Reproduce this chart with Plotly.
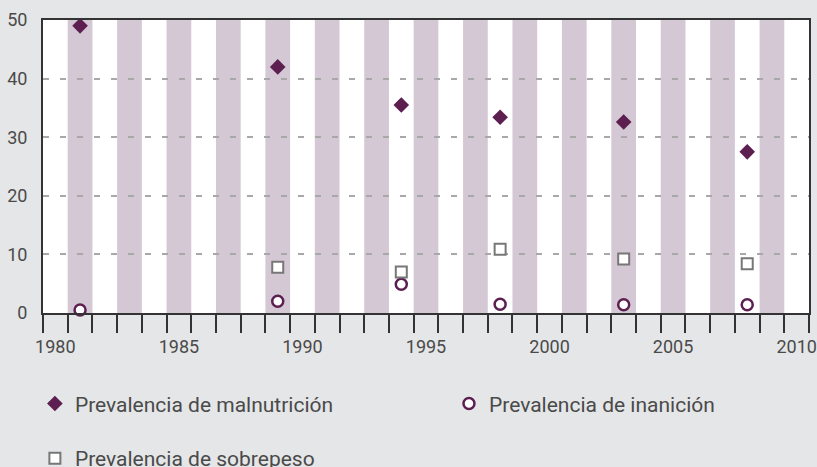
import plotly.graph_objects as go

years = [1981, 1989, 1994, 1998, 2003, 2008]
malnutricion = [49.0, 42.0, 35.5, 33.4, 32.6, 27.5]
inanicion = [0.5, 2.0, 4.9, 1.5, 1.4, 1.4]
sobrepeso_years = [1989, 1994, 1998, 2003, 2008]
sobrepeso = [7.8, 7.0, 10.9, 9.2, 8.4]

stripe_years = list(range(1981, 2010, 2))
x_ticks = [1980, 1985, 1990, 1995, 2000, 2005, 2010]
y_ticks = [0, 10, 20, 30, 40, 50]

PURPLE = "#5c1f50"
STRIPE = "#d4c8d5"
BG = "#e5e6e7"
TXT = "#4a4a4a"
FONT = "Roboto, Open Sans, sans-serif"

fig = go.Figure()

fig.add_trace(go.Scatter(
    x=years, y=malnutricion, mode="markers", name="Prevalencia de malnutrición",
    marker=dict(symbol="diamond", size=12, color=PURPLE),
    legend="legend", cliponaxis=False))
fig.add_trace(go.Scatter(
    x=years, y=inanicion, mode="markers", name="Prevalencia de inanición",
    marker=dict(symbol="circle", size=11, color="white", line=dict(color=PURPLE, width=2.5)),
    legend="legend2", cliponaxis=False))
fig.add_trace(go.Scatter(
    x=sobrepeso_years, y=sobrepeso, mode="markers", name="Prevalencia de sobrepeso",
    marker=dict(symbol="square", size=11, color="white", line=dict(color="#777777", width=2)),
    legend="legend3", cliponaxis=False))

shapes = []
for yr in stripe_years:
    shapes.append(dict(type="rect", xref="x", yref="y", x0=yr - 0.5, x1=yr + 0.5,
                       y0=0, y1=50, fillcolor=STRIPE, line=dict(width=0), layer="below"))

legend_common = dict(font=dict(family=FONT, size=21, color=TXT), bgcolor="rgba(0,0,0,0)",
                     borderwidth=0, xanchor="left", yanchor="middle")

fig.update_layout(
    width=817, height=467,
    margin=dict(l=43, r=8, t=20, b=154, autoexpand=False),
    paper_bgcolor=BG, plot_bgcolor="white",
    font=dict(family=FONT, size=18, color=TXT),
    shapes=shapes,
    showlegend=True,
    legend=dict(x=-0.0106, y=-0.31, **legend_common),
    legend2=dict(x=0.530, y=-0.31, **legend_common),
    legend3=dict(x=-0.0106, y=-0.497, **legend_common),
    xaxis=dict(
        range=[1979.5, 2010.5], tickmode="array", tickvals=x_ticks,
        ticktext=[str(v) for v in x_ticks],
        ticks="outside", ticklen=16, tickcolor="rgba(0,0,0,0)",
        minor=dict(tick0=1979.5, dtick=1, ticks="outside", ticklen=18,
                   tickwidth=2, tickcolor="#333333", showgrid=False),
        showgrid=False, zeroline=False, showline=True, mirror=True,
        linecolor="#333333", linewidth=2,
        tickfont=dict(family=FONT, size=18, color=TXT)),
    yaxis=dict(
        range=[0, 50], tickmode="array", tickvals=y_ticks,
        ticks="outside", ticklen=10, tickcolor="rgba(0,0,0,0)",
        showgrid=True, gridcolor="#a8a8a8", gridwidth=2, griddash="6px,11px",
        zeroline=False, showline=True, mirror=True,
        linecolor="#333333", linewidth=2,
        tickfont=dict(family=FONT, size=18, color=TXT)),
)

fig.write_html("out.html", config={"displayModeBar": False},
               post_script="document.body.style.margin='0';document.body.style.padding='0';document.body.style.overflow='hidden';")
